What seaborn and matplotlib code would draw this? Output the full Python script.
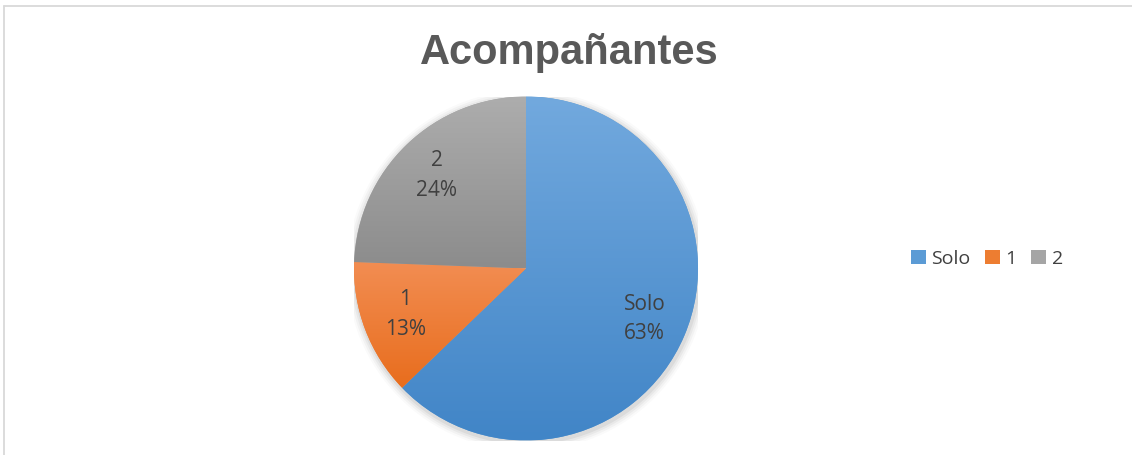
import numpy as np
import matplotlib
matplotlib.use("Agg")
import matplotlib.pyplot as plt
from matplotlib.colors import LinearSegmentedColormap
from matplotlib.patches import Patch, Circle
from matplotlib.lines import Line2D
import seaborn as sns

# ---- data ----
categories = ["Solo", "1", "2"]
values = [62.8, 12.8, 24.4]
title = "Acompañantes"
top_colors = ["#72a9de", "#f28d52", "#adadad"]
bottom_colors = ["#4185c7", "#e86d1d", "#8c8c8c"]
legend_colors = ["#5b9bd5", "#ed7d31", "#a5a5a5"]

sns.set_theme(style="white")
plt.rcParams["font.family"] = ["Open Sans", "DejaVu Sans"]

W, H = 1132, 455
fig = plt.figure(figsize=(W / 100, H / 100), dpi=100)
fig.patch.set_facecolor("white")

cx, cy, r = 526, H - 268.5, 172
ax = fig.add_axes([(cx - r) / W, (cy - r) / H, 2 * r / W, 2 * r / H])

wedges, texts, autotexts = ax.pie(
    values, labels=categories, startangle=90, counterclock=False,
    colors=legend_colors, autopct="%1.0f%%", labeldistance=None,
    pctdistance=0.75, wedgeprops=dict(linewidth=0),
    textprops=dict(color="#404040", fontsize=15))
ax.set_aspect("equal")
ax.axis("off")

# soft shadow
for i, a in enumerate([0.05, 0.04, 0.03, 0.02]):
    ax.add_patch(Circle((0.006, -0.012), 1 + 0.012 * (i + 1), color="black",
                        alpha=a, zorder=0, lw=0))

# gradient fills
for w, tc, bc in zip(wedges, top_colors, bottom_colors):
    w.set_zorder(1)
    ext = w.get_path().get_extents(w.get_patch_transform())
    cmap = LinearSegmentedColormap.from_list("g", [bc, tc])
    grad = np.linspace(0, 1, 256).reshape(-1, 1)
    im = ax.imshow(grad, cmap=cmap, origin="lower", aspect="auto",
                   extent=[ext.x0, ext.x1, ext.y0, ext.y1], zorder=2,
                   interpolation="bilinear")
    im.set_clip_path(w)
ax.set_xlim(-1, 1)
ax.set_ylim(-1, 1)

# combined labels
for t, lab in zip(autotexts, categories):
    t.set_text(lab + "\n" + t.get_text())
    t.set_linespacing(1.55)
    t.set_zorder(5)
    t.set_ha("center")
    t.set_va("center")

fig.text(0.5026, 1 - 53 / H, title, ha="center", va="center",
         fontsize=30, fontweight="bold", color="#595959",
         family=["Liberation Sans", "DejaVu Sans"])

handles = [Patch(facecolor=c, edgecolor="none") for c in legend_colors]
fig.legend(handles, categories, loc="center", bbox_to_anchor=(987 / W, 1 - 259 / H),
           ncol=3, frameon=False, fontsize=14, handlelength=0.75, handleheight=0.75,
           handletextpad=0.3, columnspacing=0.75, labelcolor="#404040")

# chart area border (top and left visible)
fig.add_artist(Line2D([3.5 / W, 1], [1 - 5.5 / H, 1 - 5.5 / H], color="#d9d9d9",
                      lw=1.3, transform=fig.transFigure))
fig.add_artist(Line2D([3.5 / W, 3.5 / W], [0, 1 - 5.5 / H], color="#d9d9d9",
                      lw=1.3, transform=fig.transFigure))

fig.savefig("out.png", dpi=100, facecolor="white")
